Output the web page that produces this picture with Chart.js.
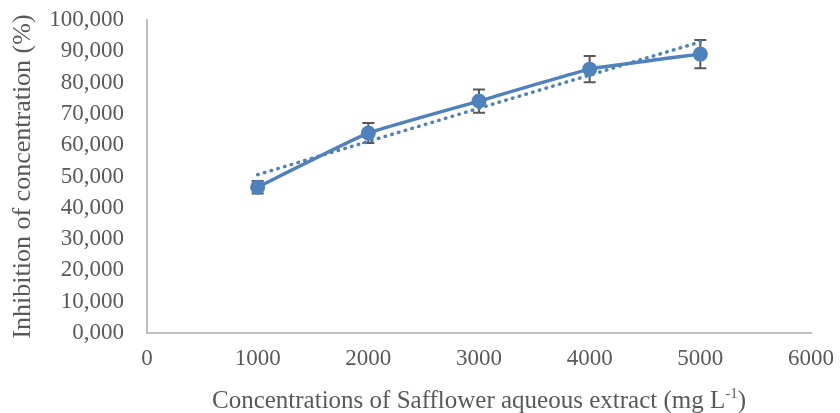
<!DOCTYPE html>
<html>
<head>
<meta charset="utf-8">
<script src="https://cdn.jsdelivr.net/npm/chart.js@4"></script>
<style>
  html, body { margin: 0; padding: 0; background: #fff; }
  #wrap { width: 840px; height: 413px; }
</style>
</head>
<body>
<div id="wrap"><canvas id="inhibition-chart" width="840" height="413"></canvas></div>
<script>
var concentrations = [1000, 2000, 3000, 4000, 5000];
var inhibition = [46.6, 63.9, 74.1, 84.3, 89.1];
var errorBars = [2.0, 3.2, 3.7, 4.2, 4.5];
var trendX = [1000, 5000];
var trendY = [50.6, 93.0];
var yTitle = "Inhibition of concentration (%)";
var xTitleMain = "Concentrations of Safflower aqueous extract (mg L";
var xTitleSup = "-1";
var xTitleEnd = ")";

var blue = "#4f81bd";
var grey = "#595959";
var serif = "'Liberation Serif', 'Times New Roman', serif";

var errorBarPlugin = {
    id: "errorBars",
    beforeDatasetsDraw: function (chart) {
        var ctx = chart.ctx;
        var xs = chart.scales.x, ys = chart.scales.y;
        ctx.save();
        ctx.strokeStyle = grey;
        ctx.lineWidth = 2;
        concentrations.forEach(function (c, i) {
            var px = xs.getPixelForValue(c);
            var top = ys.getPixelForValue(inhibition[i] + errorBars[i]);
            var bot = ys.getPixelForValue(inhibition[i] - errorBars[i]);
            ctx.beginPath();
            ctx.moveTo(px, top); ctx.lineTo(px, bot);
            ctx.moveTo(px - 6, top); ctx.lineTo(px + 6, top);
            ctx.moveTo(px - 6, bot); ctx.lineTo(px + 6, bot);
            ctx.stroke();
        });
        ctx.restore();
    }
};

var xTitlePlugin = {
    id: "xTitle",
    afterDraw: function (chart) {
        var ctx = chart.ctx;
        var area = chart.chartArea;
        ctx.save();
        ctx.fillStyle = grey;
        ctx.textBaseline = "alphabetic";
        ctx.font = "25px " + serif;
        var w1 = ctx.measureText(xTitleMain).width;
        var w3 = ctx.measureText(xTitleEnd).width;
        ctx.font = "15px " + serif;
        var w2 = ctx.measureText(xTitleSup).width;
        var total = w1 + w2 + w3;
        var x = (area.left + area.right) / 2 - total / 2;
        var y = 408;
        ctx.font = "25px " + serif;
        ctx.fillText(xTitleMain, x, y);
        ctx.font = "15px " + serif;
        ctx.fillText(xTitleSup, x + w1, y - 10);
        ctx.font = "25px " + serif;
        ctx.fillText(xTitleEnd, x + w1 + w2, y);
        ctx.restore();
    }
};

new Chart(document.getElementById("inhibition-chart").getContext("2d"), {
    type: "line",
    data: {
        datasets: [
            {
                label: "Inhibition",
                data: concentrations.map(function (c, i) { return { x: c, y: inhibition[i] }; }),
                borderColor: blue,
                backgroundColor: blue,
                borderWidth: 3.5,
                pointRadius: 7.5,
                pointBorderWidth: 0,
                tension: 0.1,
                order: 1
            },
            {
                label: "Trend",
                data: trendX.map(function (c, i) { return { x: c, y: trendY[i] }; }),
                borderColor: blue,
                borderWidth: 3.5,
                borderDash: [0.5, 6.5],
                borderCapStyle: "round",
                pointRadius: 0,
                order: 2
            }
        ]
    },
    options: {
        responsive: false,
        animation: false,
        layout: { padding: { top: 20, right: 29, left: 0, bottom: 0 } },
        plugins: { legend: { display: false }, tooltip: { enabled: false } },
        scales: {
            x: {
                type: "linear",
                min: 0,
                max: 6000,
                grid: { display: false, drawTicks: false },
                border: { display: true, color: "#bfbfbf", width: 2 },
                ticks: {
                    stepSize: 1000,
                    autoSkip: false,
                    padding: 12,
                    color: grey,
                    font: { family: serif, size: 23 },
                    maxRotation: 0,
                    callback: function (v) { return String(v); }
                },
                afterFit: function (s) {
                    s.height = 80;
                    s.paddingLeft = 0;
                    s.paddingRight = 0;
                }
            },
            y: {
                min: 0,
                max: 100,
                grid: { display: false, drawTicks: false },
                border: { display: true, color: "#bfbfbf", width: 2 },
                ticks: {
                    stepSize: 10,
                    autoSkip: false,
                    padding: 23,
                    color: grey,
                    font: { family: serif, size: 23 },
                    callback: function (v) { return v.toFixed(3).replace(".", ","); }
                },
                title: {
                    display: true,
                    text: yTitle,
                    color: grey,
                    font: { family: serif, size: 26 },
                    padding: { top: 8, bottom: 0 }
                },
                afterFit: function (s) {
                    s.width = 147;
                    s.paddingTop = 0;
                    s.paddingBottom = 0;
                }
            }
        }
    },
    plugins: [errorBarPlugin, xTitlePlugin]
});
</script>
</body>
</html>
